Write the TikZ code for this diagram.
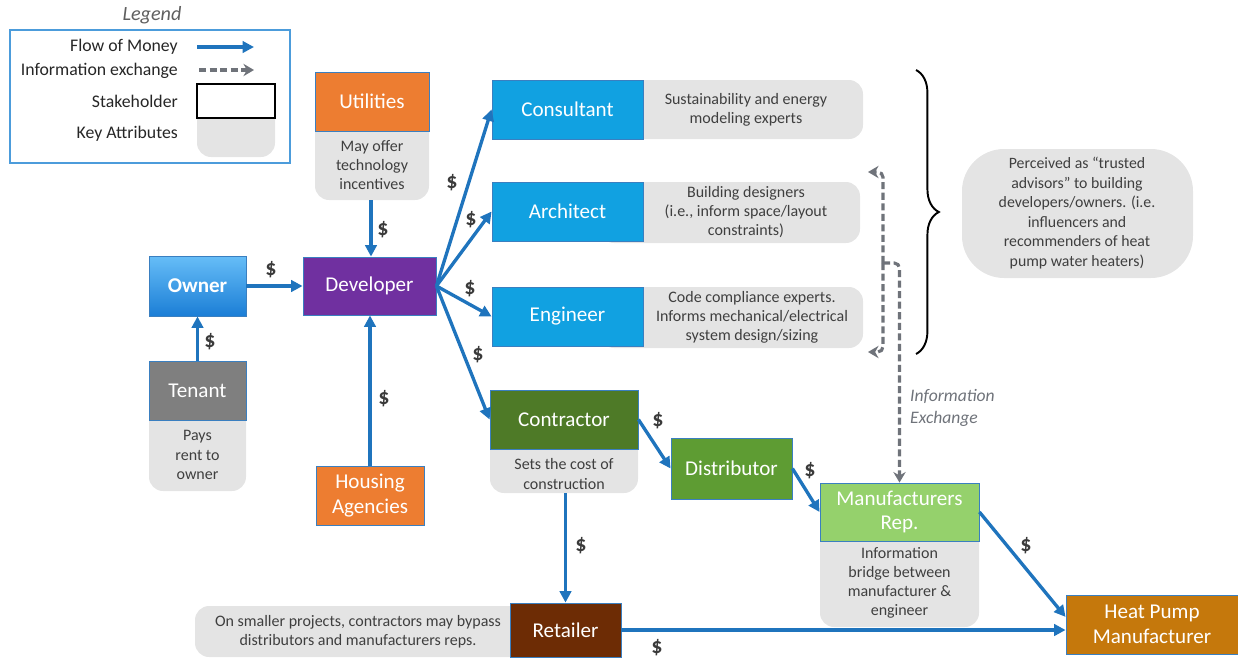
\documentclass[tikz,border=0pt]{standalone}
\usepackage{fontspec}
\setmainfont{Carlito}
\usepackage{tikz}
\usetikzlibrary{arrows.meta,decorations.pathreplacing}

\definecolor{orng}{HTML}{ED7D31}
\definecolor{purp}{HTML}{7030A0}
\definecolor{ownA}{HTML}{66BDF7}
\definecolor{ownB}{HTML}{1B7ED6}
\definecolor{tengray}{HTML}{7F7F7F}
\definecolor{advblue}{HTML}{11A1E1}
\definecolor{contgreen}{HTML}{4E7A27}
\definecolor{distgreen}{HTML}{5E9C33}
\definecolor{repgreen}{HTML}{95D16C}
\definecolor{hpbrown}{HTML}{C5780C}
\definecolor{retbrown}{HTML}{6D2C05}
\definecolor{edgeblue}{HTML}{3A7FC0}
\definecolor{moneyblue}{HTML}{1F74BD}
\definecolor{infogray}{HTML}{6F737A}
\definecolor{attrgray}{HTML}{E4E4E4}
\definecolor{attrtext}{HTML}{3F3F3F}
\definecolor{legblue}{HTML}{4C9CDB}
\definecolor{legendgray}{HTML}{5F5F5F}
\definecolor{dollargray}{HTML}{3A3A3A}

\begin{document}
\begin{tikzpicture}
    %[x=1pt,y=-1pt]
    [x=0.02cm,y=-0.02cm,
     stake/.style={draw=edgeblue,line width=0.5pt,text=white,align=center,inner sep=1pt,
       minimum height=1.18cm,font=\fontsize{12}{14}\selectfont},
     attr/.style={text=attrtext,align=center,inner sep=0pt,font=\fontsize{9.1}{10.9}\selectfont},
     attrbg/.style={fill=attrgray,rounded corners=8pt},
     legtxt/.style={anchor=east,text=black!85,font=\fontsize{10.1}{12}\selectfont},
     money/.style={draw=moneyblue,line width=1.9pt,-{Triangle[length=6.5pt,width=6.5pt]}},
     info/.style={draw=infogray,line width=1.8pt,dash pattern=on 4pt off 2pt,
       -{Stealth[length=6pt,width=7pt]}},
     dollar/.style={text=dollargray,font=\fontsize{12.5}{14}\selectfont\bfseries}]
    \useasboundingbox (0,0) rectangle (1238,657);

    % legend
    \node[font=\fontsize{11.5}{13}\selectfont\itshape,text=legendgray] (lgt) at (152,15) {Legend};
    \node[draw=legblue,line width=0.8pt,minimum width=5.6cm,minimum height=2.66cm] (lgb) at (150,96.5) {};
    \node[legtxt] (lg1) at (184,47) {Flow of Money};
    \node[legtxt] (lg2) at (184,71) {Information exchange};
    \node[legtxt] (lg3) at (184,101) {Stakeholder};
    \node[legtxt] (lg4) at (184,134) {Key Attributes};
    \coordinate (lm1) at (197,47);
    \coordinate (lm2) at (254,47);
    \coordinate (li1) at (199,70);
    \coordinate (li2) at (254,70);
    \path (lm1) edge[money] (lm2);
    \path (li1) edge[info] (li2);
    \fill[attrbg] (197,100) rectangle (275,157);
    \node[draw=black,fill=white,line width=0.8pt,minimum width=1.56cm,minimum height=0.68cm] (lgs) at (236,101) {};

    % key attributes
    \fill[attrbg] (315,101) rectangle (429,200);
    \fill[attrbg] (149,390) rectangle (246,491);
    \fill[attrbg] (600,80) rectangle (863,139);
    \fill[attrbg] (600,182) rectangle (860,243);
    \fill[attrbg] (600,287) rectangle (863,348);
    \fill[attrbg] (490,420) rectangle (638,493);
    \fill[attrbg] (820,512) rectangle (979,627);
    \fill[attrbg] (195,606) rectangle (560,657);
    \fill[attrbg,rounded corners=24pt] (962,149) rectangle (1193,278);

    \node[attr] (tu) at (372,165) {May offer\\technology\\incentives};
    \node[attr] (tt) at (197.5,455) {Pays\\rent to\\owner};
    \node[attr] (tc) at (746,110) {Sustainability and energy\\modeling experts};
    \node[attr] (ta) at (746,212) {Building designers\\(i.e., inform space/layout\\constraints)};
    \node[attr] (te) at (752,317) {Code compliance experts.\\Informs mechanical/electrical\\system design/sizing};
    \node[attr] (tk) at (564,474) {Sets the cost of\\construction};
    \node[attr] (tm) at (899.5,583) {Information\\bridge between\\manufacturer \&\\engineer};
    \node[attr] (tr) at (358,632) {On smaller projects, contractors may bypass\\distributors and manufacturers reps.};
    \node[attr,font=\fontsize{9}{11.1}\selectfont] (tv) at (1077,213)
      {Perceived as “trusted\\advisors” to building\\developers/owners. (i.e.\\influencers and\\recommenders of heat\\pump water heaters)};

    % stakeholders
    \node[stake,fill=orng,minimum width=2.28cm] (uti) at (372,101.5) {Utilities};
    \node[stake,fill=purp,minimum width=2.66cm,minimum height=1.16cm] (dev) at (369.5,286) {Developer};
    \node[stake,top color=ownA,bottom color=ownB,minimum width=1.94cm,minimum height=1.2cm,
      font=\fontsize{12}{14}\selectfont\bfseries] (own) at (197.5,286) {Owner};
    \node[stake,fill=tengray,minimum width=1.94cm] (ten) at (197.5,390.5) {Tenant};
    \node[stake,fill=orng,minimum width=2.16cm] (hou) at (370,495.5) {Housing\\Agencies};
    \node[stake,fill=advblue,minimum width=3.02cm] (con) at (567.5,109.5) {Consultant};
    \node[stake,fill=advblue,minimum width=3.02cm] (arc) at (567.5,211.5) {Architect};
    \node[stake,fill=advblue,minimum width=3.02cm] (eng) at (567.5,316.5) {Engineer};
    \node[stake,fill=contgreen,minimum width=2.96cm] (ctr) at (564,419.5) {Contractor};
    \node[stake,fill=distgreen,minimum width=2.42cm,minimum height=1.22cm] (dis) at (731.5,468.5) {Distributor};
    \node[stake,fill=repgreen,minimum width=3.18cm,minimum height=1.16cm] (rep) at (899.5,512) {Manufacturers\\Rep.};
    \node[stake,fill=hpbrown,minimum width=3.44cm] (hpm) at (1152,624.5) {Heat Pump\\Manufacturer};
    \node[stake,fill=retbrown,minimum width=2.22cm,minimum height=1.08cm] (ret) at (565.5,630) {Retailer};

    % money flow
    \coordinate (ub) at (371,200);
    \coordinate (cb) at (565.5,493);
    \path (own) edge[money] (dev);
    \path (ten) edge[money] (own);
    \path (ub) edge[money] (ub |- dev.north);
    \path (hou.north) edge[money] (hou.north |- dev.south);
    \path (dev.east) edge[money] (con.west);
    \path (dev.east) edge[money] (arc.west);
    \path (dev.east) edge[money] (eng.west);
    \path (dev.east) edge[money] (ctr.west);
    \path (ctr.east) edge[money] (dis.west);
    \path (dis.east) edge[money] (rep.west);
    \path (rep.east) edge[money] (hpm.175);
    \path (cb) edge[money] (ret.north);
    \path (ret.east) edge[money] (ret.east -| hpm.west);

    \node[dollar] (d1) at (271,270) {\$};
    \node[dollar] (d2) at (210,342) {\$};
    \node[dollar] (d3) at (383,230) {\$};
    \node[dollar] (d4) at (384,399) {\$};
    \node[dollar] (d5) at (452,183) {\$};
    \node[dollar] (d6) at (471,220) {\$};
    \node[dollar] (d7) at (470,289) {\$};
    \node[dollar] (d8) at (478,355) {\$};
    \node[dollar] (d9) at (658,421) {\$};
    \node[dollar] (d10) at (810,471) {\$};
    \node[dollar] (d11) at (1026,546) {\$};
    \node[dollar] (d12) at (581,546) {\$};
    \node[dollar] (d13) at (657,648) {\$};

    % information exchange
    \coordinate (ij) at (883,263);
    \coordinate (ia) at (868,172);
    \coordinate (ib) at (868,352);
    \draw[info,rounded corners=3pt] (ij) -| (rep.north);
    \draw[info,rounded corners=3pt] (ij) |- (ia);
    \draw[info,rounded corners=3pt] (ij) |- (ib);
    \node[anchor=west,align=left,text=infogray,font=\fontsize{10}{12.5}\selectfont\itshape] (ix) at (904,408)
      {Information\\Exchange};

    \draw[decorate,decoration={brace,amplitude=13pt},line width=1.1pt] (916,70) -- (916,354);

  \end{tikzpicture}
\end{document}
